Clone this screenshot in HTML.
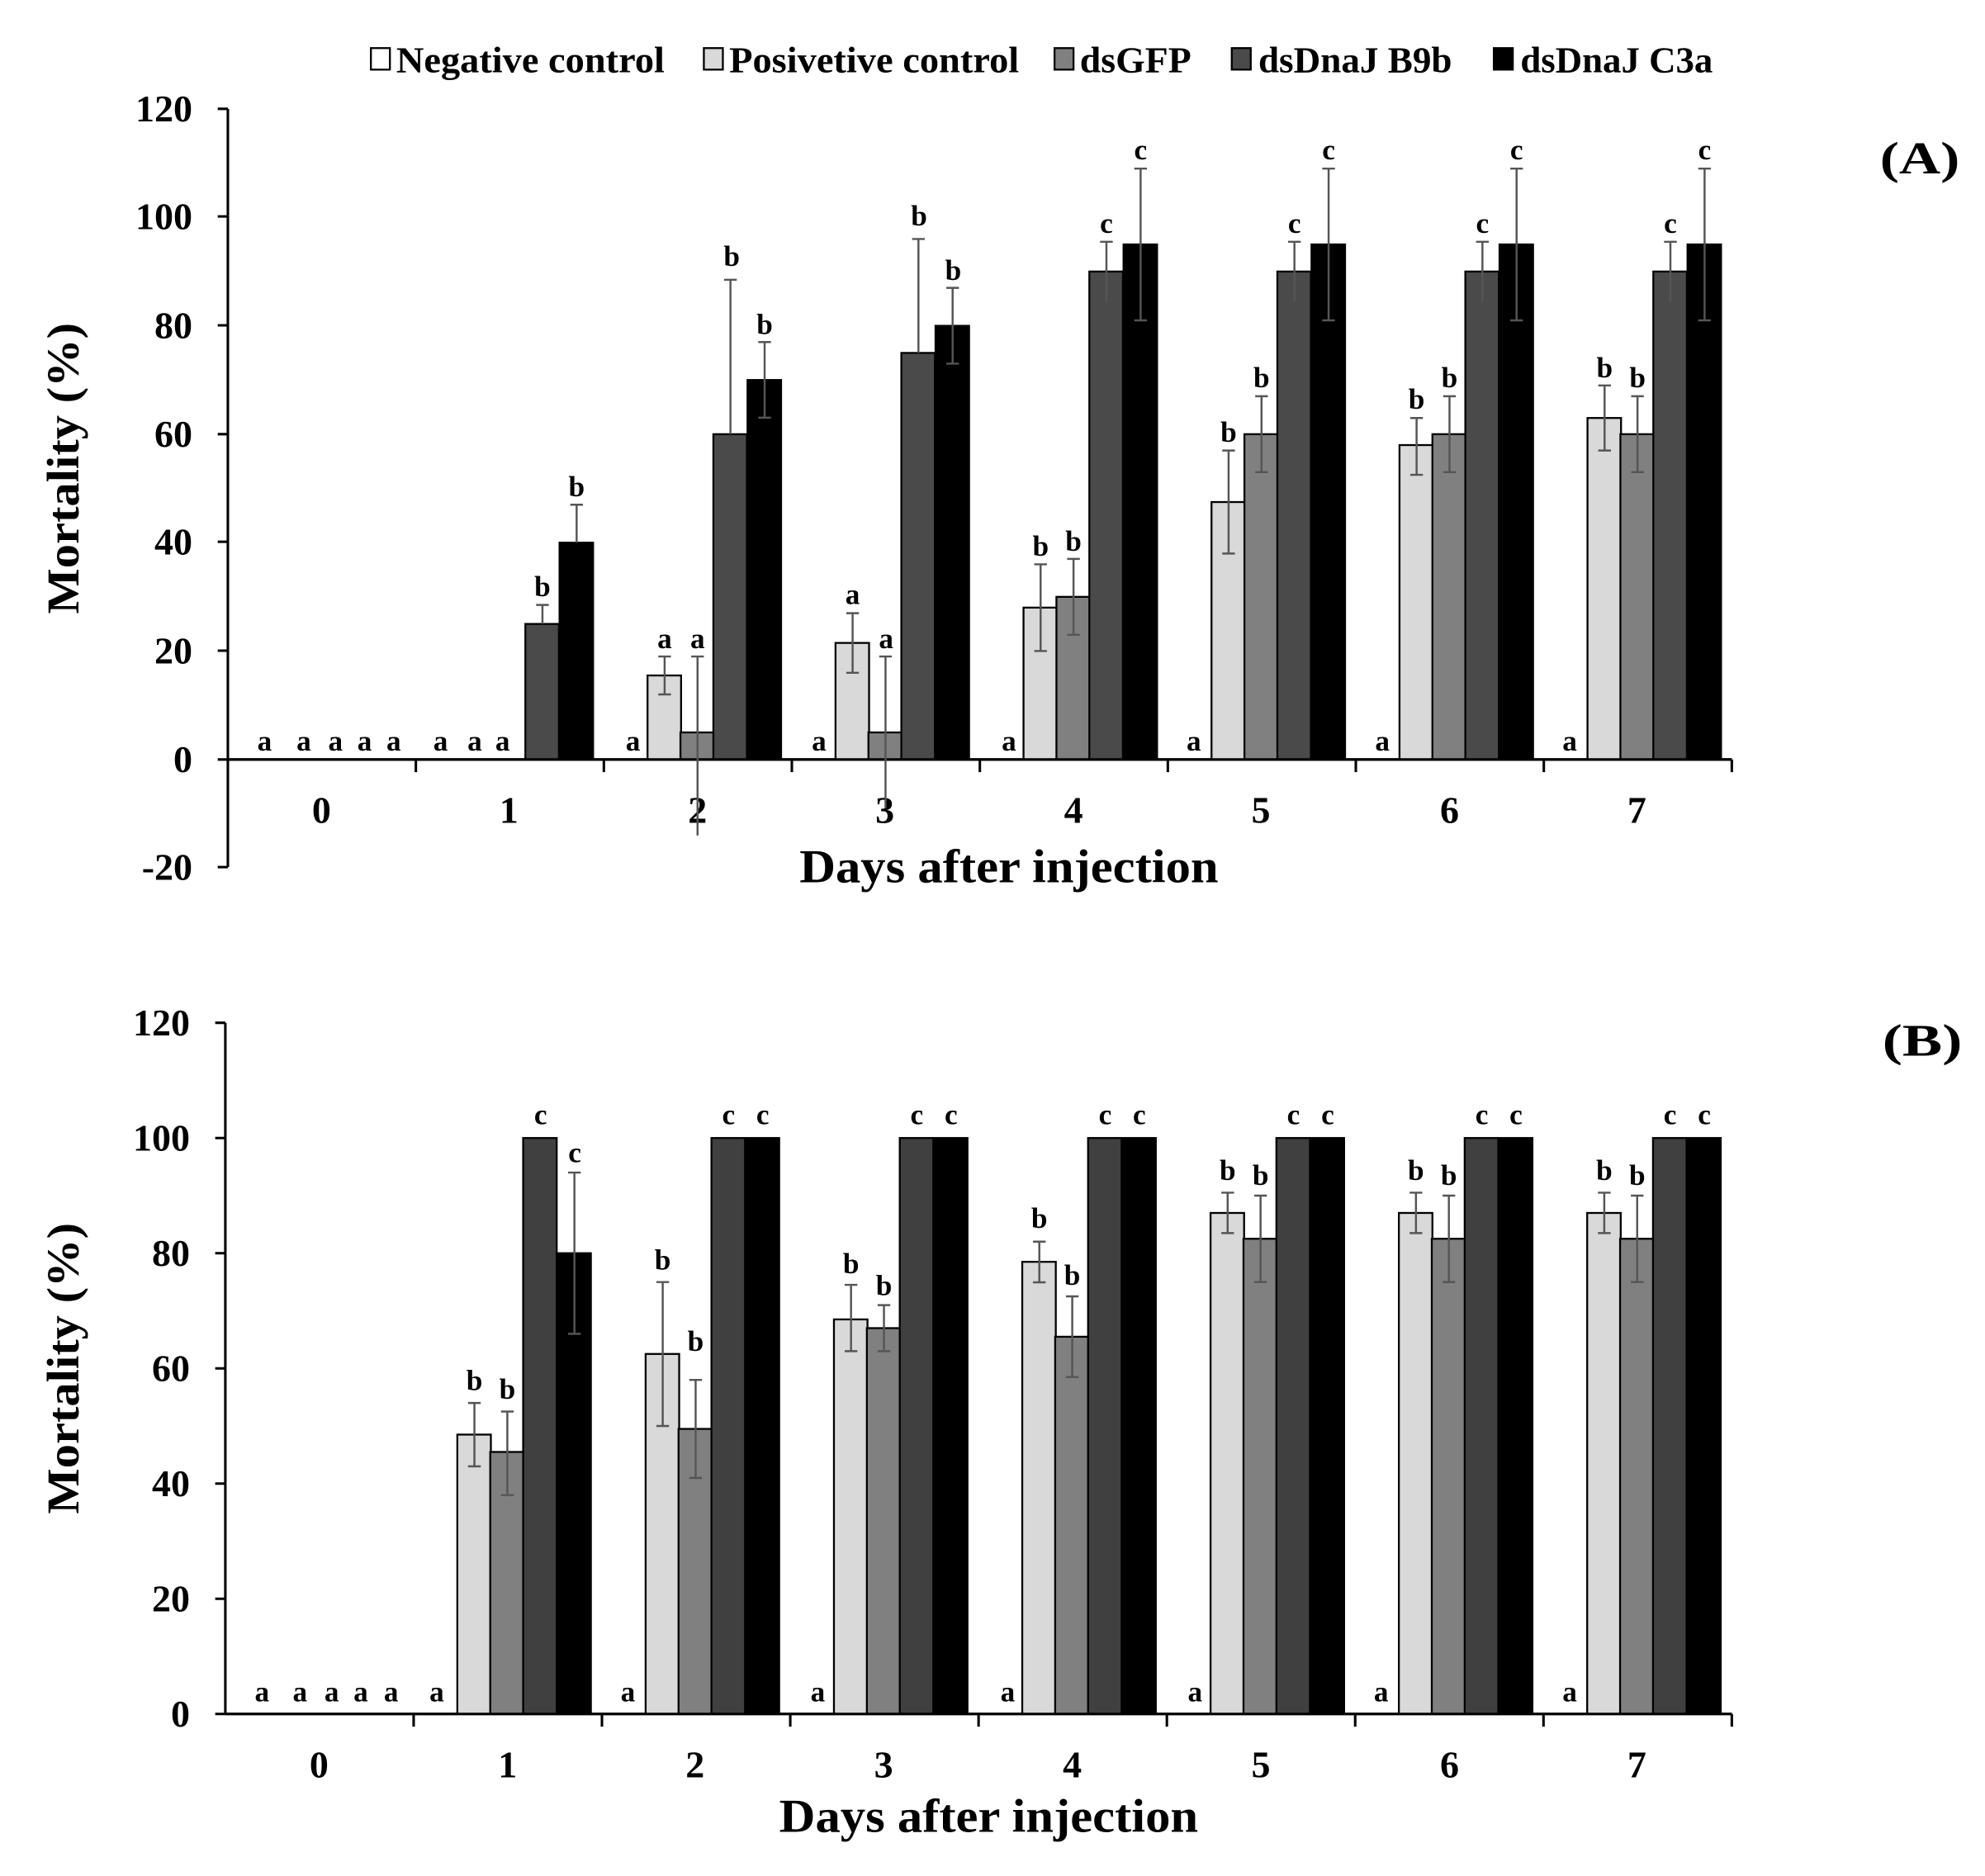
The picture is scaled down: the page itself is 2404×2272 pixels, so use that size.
<!DOCTYPE html>
<html><head><meta charset="utf-8"><style>
html,body{margin:0;padding:0;background:#fff;}
svg{display:block;}
text{font-family:"Liberation Serif",serif;font-weight:bold;fill:#000;}
.l{font-size:23px;text-anchor:middle;}
.t{font-size:30px;}
.lg{font-size:29px;}
.r{text-anchor:end;}
.m{text-anchor:middle;}
rect{stroke:#000;stroke-width:1.5;}
.p{fill:#d9d9d9}.g{fill:#808080}.d{fill:#4a4a4a}.k{fill:#000}
.e{stroke:#555;stroke-width:1.6;fill:none;}
.ax{stroke:#000;stroke-width:2;fill:none;}
</style></head><body>
<svg width="2404" height="2272" viewBox="0 0 1568 1482" preserveAspectRatio="none">
<!-- Legend -->
<rect x="293" y="38" width="15" height="17" fill="#fff"/><text class="lg" x="313" y="57" textLength="212" lengthAdjust="spacingAndGlyphs">Negative control</text>
<rect x="556" y="38" width="15" height="17" class="p"/><text class="lg" x="576" y="57" textLength="229" lengthAdjust="spacingAndGlyphs">Posivetive control</text>
<rect x="833" y="38" width="15" height="17" class="g"/><text class="lg" x="853" y="57" textLength="88" lengthAdjust="spacingAndGlyphs">dsGFP</text>
<rect x="973" y="38" width="15" height="17" class="d"/><text class="lg" x="994" y="57" textLength="153" lengthAdjust="spacingAndGlyphs">dsDnaJ B9b</text>
<rect x="1180" y="38" width="15" height="17" class="k"/><text class="lg" x="1201" y="57" textLength="152" lengthAdjust="spacingAndGlyphs">dsDnaJ C3a</text>

<!-- Chart A -->
<text class="t" x="1485" y="137" style="font-size:36px" textLength="63" lengthAdjust="spacingAndGlyphs">(A)</text>
<text class="t m" x="0" y="0" transform="translate(62,370) rotate(-90)" style="font-size:36px" textLength="230" lengthAdjust="spacingAndGlyphs">Mortality (%)</text>
<text class="t m" x="797" y="697" style="font-size:37px" textLength="331" lengthAdjust="spacingAndGlyphs">Days after injection</text>
<text class="t r" x="152" y="96">120</text><text class="t r" x="152" y="181">100</text><text class="t r" x="152" y="267">80</text><text class="t r" x="152" y="353">60</text><text class="t r" x="152" y="438">40</text><text class="t r" x="152" y="524">20</text><text class="t r" x="152" y="610">0</text><text class="t r" x="152" y="695">-20</text>
<path class="ax" d="M180 86V685M172 86H180M172 171H180M172 257H180M172 343H180M172 428H180M172 514H180M172 600H180M172 685H180M180 600H1368M328.5 600v10M477 600v10M625.5 600v10M774 600v10M922.5 600v10M1071 600v10M1219.5 600v10M1368 600v10"/>
<text class="t m" x="254" y="650">0</text><text class="t m" x="402" y="650">1</text><text class="t m" x="551" y="650">2</text><text class="t m" x="699" y="650">3</text><text class="t m" x="848" y="650">4</text><text class="t m" x="996" y="650">5</text><text class="t m" x="1145" y="650">6</text><text class="t m" x="1293" y="650">7</text>

<!-- A bars -->
<rect class="d" x="415" y="492.9" width="26.5" height="107.1"/><rect class="k" x="442" y="428.7" width="26.5" height="171.3"/>
<rect class="p" x="511.5" y="533.6" width="26.5" height="66.4"/><rect class="g" x="537.5" y="578.6" width="26.5" height="21.4"/><rect class="d" x="563.5" y="343" width="26.5" height="257"/><rect class="k" x="590.5" y="300.2" width="26.5" height="299.8"/>
<rect class="p" x="660" y="507.9" width="26.5" height="92.1"/><rect class="g" x="686" y="578.6" width="26.5" height="21.4"/><rect class="d" x="712" y="278.8" width="26.5" height="321.2"/><rect class="k" x="739" y="257.4" width="26.5" height="342.6"/>
<rect class="p" x="808.5" y="480" width="26.5" height="120"/><rect class="g" x="834.5" y="471.5" width="26.5" height="128.5"/><rect class="d" x="860.5" y="214.5" width="26.5" height="385.5"/><rect class="k" x="887.5" y="193.1" width="26.5" height="406.9"/>
<rect class="p" x="957" y="396.6" width="26.5" height="203.4"/><rect class="g" x="983" y="343" width="26.5" height="257"/><rect class="d" x="1009" y="214.5" width="26.5" height="385.5"/><rect class="k" x="1036" y="193.1" width="26.5" height="406.9"/>
<rect class="p" x="1105.5" y="351.6" width="26.5" height="248.4"/><rect class="g" x="1131.5" y="343" width="26.5" height="257"/><rect class="d" x="1157.5" y="214.5" width="26.5" height="385.5"/><rect class="k" x="1184.5" y="193.1" width="26.5" height="406.9"/>
<rect class="p" x="1254" y="330.2" width="26.5" height="269.8"/><rect class="g" x="1280" y="343" width="26.5" height="257"/><rect class="d" x="1306" y="214.5" width="26.5" height="385.5"/><rect class="k" x="1333" y="193.1" width="26.5" height="406.9"/>
<path class="ax" d="M180 600H1368"/>
<!-- A error bars -->
<path class="e" d="M428.5 492.9V477.9M423.5 477.9h10M455.5 428.7V398.7M450.5 398.7h10
M525 548.6V518.6M520 548.6h10M520 518.6h10M551 660V518.6M546 518.6h10M577 343V221M572 221h10M604 330V270.2M599 330h10M599 270.2h10
M673.5 531.5V484.4M668.5 531.5h10M668.5 484.4h10M699.5 638.5V518.6M694.5 518.6h10M725.5 278.8V188.8M720.5 188.8h10M752.5 287.3V227.4M747.5 287.3h10M747.5 227.4h10
M822 514.3V445.8M817 514.3h10M817 445.8h10M848 501.5V441.5M843 501.5h10M843 441.5h10M874 238V191M869 191h10M901 253.1V133.2M896 253.1h10M896 133.2h10
M970.5 437.3V355.9M965.5 437.3h10M965.5 355.9h10M996.5 373V313M991.5 373h10M991.5 313h10M1022.5 238V191M1017.5 191h10M1049.5 253.1V133.2M1044.5 253.1h10M1044.5 133.2h10
M1119 375.1V330.2M1114 375.1h10M1114 330.2h10M1145 373V313M1140 373h10M1140 313h10M1171 238V191M1166 191h10M1198 253.1V133.2M1193 253.1h10M1193 133.2h10
M1267.5 355.9V304.5M1262.5 355.9h10M1262.5 304.5h10M1293.5 373V313M1288.5 373h10M1288.5 313h10M1319.5 238V191M1314.5 191h10M1346.5 253.1V133.2M1341.5 253.1h10M1341.5 133.2h10"/>
<!-- A letters -->
<text class="l" x="209 240 265 288 311" y="593">aaaaa</text>
<text class="l" x="348 375 397" y="593">aaa</text>
<text class="l" x="428.5" y="471">b</text><text class="l" x="455.5" y="392">b</text>
<text class="l" x="500" y="593">a</text><text class="l" x="525" y="512">a</text><text class="l" x="551" y="512">a</text><text class="l" x="578" y="210">b</text><text class="l" x="604" y="264">b</text>
<text class="l" x="647" y="593">a</text><text class="l" x="673.5" y="477">a</text><text class="l" x="700" y="512">a</text><text class="l" x="726" y="178">b</text><text class="l" x="753" y="221">b</text>
<text class="l" x="797" y="593">a</text><text class="l" x="822" y="439">b</text><text class="l" x="848" y="435">b</text><text class="l" x="874" y="184">c</text><text class="l" x="901" y="126">c</text>
<text class="l" x="943" y="593">a</text><text class="l" x="970.5" y="349">b</text><text class="l" x="996.5" y="306">b</text><text class="l" x="1022.5" y="184">c</text><text class="l" x="1049.5" y="126">c</text>
<text class="l" x="1092" y="593">a</text><text class="l" x="1119" y="323">b</text><text class="l" x="1145" y="306">b</text><text class="l" x="1171" y="184">c</text><text class="l" x="1198" y="126">c</text>
<text class="l" x="1240" y="593">a</text><text class="l" x="1267.5" y="298">b</text><text class="l" x="1293.5" y="306">b</text><text class="l" x="1319.5" y="184">c</text><text class="l" x="1346.5" y="126">c</text>

<!-- Chart B -->
<text class="t" x="1487" y="834" style="font-size:36px" textLength="63" lengthAdjust="spacingAndGlyphs">(B)</text>
<text class="t m" x="0" y="0" transform="translate(62,1081) rotate(-90)" style="font-size:36px" textLength="230" lengthAdjust="spacingAndGlyphs">Mortality (%)</text>
<text class="t m" x="781" y="1447" style="font-size:37px" textLength="331" lengthAdjust="spacingAndGlyphs">Days after injection</text>
<text class="t r" x="150" y="818">120</text><text class="t r" x="150" y="909">100</text><text class="t r" x="150" y="1000">80</text><text class="t r" x="150" y="1091">60</text><text class="t r" x="150" y="1182">40</text><text class="t r" x="150" y="1273">20</text><text class="t r" x="150" y="1364">0</text>
<path class="ax" d="M178 808V1354M170 808H178M170 899H178M170 990H178M170 1081H178M170 1172H178M170 1263H178M170 1354H178M178 1354H1368M326.75 1354v10M475.5 1354v10M624.25 1354v10M773 1354v10M921.75 1354v10M1070.5 1354v10M1219.25 1354v10M1368 1354v10"/>
<text class="t m" x="252" y="1404">0</text><text class="t m" x="401" y="1404">1</text><text class="t m" x="549" y="1404">2</text><text class="t m" x="698" y="1404">3</text><text class="t m" x="847" y="1404">4</text><text class="t m" x="996" y="1404">5</text><text class="t m" x="1145" y="1404">6</text><text class="t m" x="1293" y="1404">7</text>

<!-- B bars -->
<rect class="p" x="361.25" y="1133.3" width="26.5" height="220.7"/><rect class="g" x="387.25" y="1147" width="26.5" height="207"/><rect x="413.25" y="899" width="26.5" height="455" fill="#404040"/><rect class="k" x="440.25" y="990" width="26.5" height="364"/>
<rect class="p" x="510" y="1069.6" width="26.5" height="284.4"/><rect class="g" x="536" y="1128.8" width="26.5" height="225.2"/><rect x="562" y="899" width="26.5" height="455" fill="#404040"/><rect class="k" x="589" y="899" width="26.5" height="455"/>
<rect class="p" x="658.75" y="1042.3" width="26.5" height="311.7"/><rect class="g" x="684.75" y="1049.2" width="26.5" height="304.8"/><rect x="710.75" y="899" width="26.5" height="455" fill="#404040"/><rect class="k" x="737.75" y="899" width="26.5" height="455"/>
<rect class="p" x="807.5" y="996.8" width="26.5" height="357.2"/><rect class="g" x="833.5" y="1056" width="26.5" height="298"/><rect x="859.5" y="899" width="26.5" height="455" fill="#404040"/><rect class="k" x="886.5" y="899" width="26.5" height="455"/>
<rect class="p" x="956.25" y="958.2" width="26.5" height="395.8"/><rect class="g" x="982.25" y="978.6" width="26.5" height="375.4"/><rect x="1008.25" y="899" width="26.5" height="455" fill="#404040"/><rect class="k" x="1035.25" y="899" width="26.5" height="455"/>
<rect class="p" x="1105" y="958.2" width="26.5" height="395.8"/><rect class="g" x="1131" y="978.6" width="26.5" height="375.4"/><rect x="1157" y="899" width="26.5" height="455" fill="#404040"/><rect class="k" x="1184" y="899" width="26.5" height="455"/>
<rect class="p" x="1253.75" y="958.2" width="26.5" height="395.8"/><rect class="g" x="1279.75" y="978.6" width="26.5" height="375.4"/><rect x="1305.75" y="899" width="26.5" height="455" fill="#404040"/><rect class="k" x="1332.75" y="899" width="26.5" height="455"/>
<path class="ax" d="M178 1354H1368"/>
<!-- B error bars -->
<path class="e" d="M374.75 1158.4V1108.3M369.75 1158.4h10M369.75 1108.3h10M400.75 1181.1V1115.1M395.75 1181.1h10M395.75 1115.1h10M453.75 1053.7V926.3M448.75 1053.7h10M448.75 926.3h10
M523.5 1126.5V1012.8M518.5 1126.5h10M518.5 1012.8h10M549.5 1167.5V1090.1M544.5 1167.5h10M544.5 1090.1h10
M672.25 1067.4V1015M667.25 1067.4h10M667.25 1015h10M698.25 1067.4V1031M693.25 1067.4h10M693.25 1031h10
M821 1013V980.9M816 1013h10M816 980.9h10M847 1087.8V1024.1M842 1087.8h10M842 1024.1h10
M969.75 974.1V942.2M964.75 974.1h10M964.75 942.2h10M995.75 1012.8V944.5M990.75 1012.8h10M990.75 944.5h10
M1118.5 974.1V942.2M1113.5 974.1h10M1113.5 942.2h10M1144.5 1012.8V944.5M1139.5 1012.8h10M1139.5 944.5h10
M1267.25 974.1V942.2M1262.25 974.1h10M1262.25 942.2h10M1293.25 1012.8V944.5M1288.25 1012.8h10M1288.25 944.5h10"/>
<!-- B letters -->
<text class="l" x="207 237 262 285 309" y="1344">aaaaa</text>
<text class="l" x="345" y="1344">a</text><text class="l" x="374.75" y="1098">b</text><text class="l" x="400.75" y="1105">b</text><text class="l" x="427" y="888">c</text><text class="l" x="454" y="918">c</text>
<text class="l" x="496" y="1344">a</text><text class="l" x="523.5" y="1003">b</text><text class="l" x="549.5" y="1067">b</text><text class="l" x="575.5" y="888">c</text><text class="l" x="602.5" y="888">c</text>
<text class="l" x="646" y="1344">a</text><text class="l" x="672.25" y="1006">b</text><text class="l" x="698.25" y="1023">b</text><text class="l" x="724.25" y="888">c</text><text class="l" x="751.25" y="888">c</text>
<text class="l" x="796" y="1344">a</text><text class="l" x="821" y="970">b</text><text class="l" x="847" y="1015">b</text><text class="l" x="873" y="888">c</text><text class="l" x="900" y="888">c</text>
<text class="l" x="944" y="1344">a</text><text class="l" x="969.75" y="932">b</text><text class="l" x="995.75" y="936">b</text><text class="l" x="1021.75" y="888">c</text><text class="l" x="1048.75" y="888">c</text>
<text class="l" x="1091" y="1344">a</text><text class="l" x="1118.5" y="932">b</text><text class="l" x="1144.5" y="936">b</text><text class="l" x="1170.5" y="888">c</text><text class="l" x="1197.5" y="888">c</text>
<text class="l" x="1240" y="1344">a</text><text class="l" x="1267.25" y="932">b</text><text class="l" x="1293.25" y="936">b</text><text class="l" x="1319.25" y="888">c</text><text class="l" x="1346.25" y="888">c</text>
</svg>
</body></html>
